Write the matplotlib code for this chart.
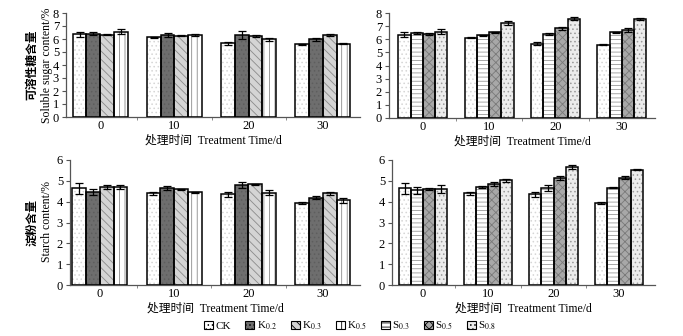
import matplotlib
matplotlib.use("Agg")
import matplotlib.pyplot as plt
from matplotlib.patches import Patch
import numpy as np

plt.rcParams['font.family'] = ['Liberation Serif', 'Noto Sans CJK SC']
plt.rcParams['mathtext.fontset'] = 'stix'
plt.rcParams['hatch.linewidth'] = 0.6

times = ['0', '10', '20', '30']

# Soluble sugar (%)
sugar_CK = [6.36, 6.13, 5.67, 5.60]
sugar_K02 = [6.42, 6.28, 6.33, 5.97]
sugar_K03 = [6.32, 6.26, 6.20, 6.30]
sugar_K05 = [6.56, 6.28, 5.97, 5.64]
sugar_S03 = [6.48, 6.30, 6.40, 6.54]
sugar_S05 = [6.40, 6.52, 6.85, 6.70]
sugar_S08 = [6.58, 7.23, 7.56, 7.56]
sugar_err_CK = [0.20, 0.04, 0.12, 0.03]
sugar_err_K02 = [0.10, 0.15, 0.30, 0.10]
sugar_err_K03 = [0.04, 0.03, 0.08, 0.08]
sugar_err_K05 = [0.20, 0.08, 0.12, 0.03]
sugar_err_S03 = [0.06, 0.03, 0.06, 0.03]
sugar_err_S05 = [0.05, 0.04, 0.12, 0.15]
sugar_err_S08 = [0.20, 0.15, 0.10, 0.06]

# Starch (%)
starch_CK = [4.64, 4.40, 4.35, 3.95]
starch_K02 = [4.48, 4.67, 4.80, 4.20]
starch_K03 = [4.72, 4.60, 4.83, 4.40]
starch_K05 = [4.72, 4.46, 4.43, 4.06]
starch_S03 = [4.54, 4.70, 4.65, 4.67]
starch_S05 = [4.62, 4.86, 5.14, 5.15]
starch_S08 = [4.60, 5.02, 5.67, 5.54]
starch_err_CK = [0.25, 0.08, 0.12, 0.04]
starch_err_K02 = [0.15, 0.10, 0.15, 0.08]
starch_err_K03 = [0.10, 0.03, 0.04, 0.08]
starch_err_K05 = [0.10, 0.02, 0.12, 0.10]
starch_err_S03 = [0.15, 0.03, 0.15, 0.03]
starch_err_S05 = [0.04, 0.10, 0.08, 0.08]
starch_err_S08 = [0.20, 0.08, 0.10, 0.03]

labels = ['CK', 'K$_{0.2}$', 'K$_{0.3}$', 'K$_{0.5}$', 'S$_{0.3}$', 'S$_{0.5}$', 'S$_{0.8}$']
styles = {
    'CK':  dict(face='#ffffff', hatch='....', hc='#d6d6d6'),
    'K02': dict(face='#6e6e6e', hatch='....', hc='#5e5e5e'),
    'K03': dict(face='#d4d4d4', hatch='\\\\\\\\', hc='#8a8a8a'),
    'K05': dict(face='#ffffff', hatch='|||', hc='#8a8a8a'),
    'S03': dict(face='#ffffff', hatch='----', hc='#9a9a9a'),
    'S05': dict(face='#a8a8a8', hatch='xxxx', hc='#7a7a7a'),
    'S08': dict(face='#ececec', hatch='....', hc='#9a9a9a'),
}

fig = plt.figure(figsize=(6.83, 3.36), dpi=100)

axes_pos = {
    'TL': [66/683, 1-117/336, 294/683, 104/336],
    'TR': [389/683, 1-118/336, 266/683, 105/336],
    'BL': [70/683, 1-285/336, 290/683, 125/336],
    'BR': [392/683, 1-285/336, 263/683, 125/336],
}
xlims = {'TL': (-0.46, 3.5), 'TR': (-0.51, 3.5), 'BL': (-0.40, 3.5), 'BR': (-0.47, 3.55)}

bw = 0.185
x = np.arange(len(times))

def draw(key, series, errs, keys, ymax, yticks):
    ax = fig.add_axes(axes_pos[key])
    n = len(series)
    for i, (vals, er, k) in enumerate(zip(series, errs, keys)):
        off = (i - (n - 1) / 2) * bw
        st = styles[k]
        ax.bar(x + off, vals, bw, color=st['face'], hatch=st['hatch'],
               edgecolor=st['hc'], linewidth=0, zorder=2)
        ax.bar(x + off, vals, bw, fill=False, edgecolor='black', linewidth=1.1, zorder=3)
        ax.errorbar(x + off, vals, yerr=er, fmt='none', ecolor='black',
                    elinewidth=0.9, capsize=3, capthick=0.9, zorder=4)
    ax.set_xlim(*xlims[key])
    ax.set_ylim(0, ymax)
    ax.set_yticks(yticks)
    ax.set_xticks(x)
    ax.set_xticklabels(times, fontsize=9)
    ax.set_xticks([0.5, 1.5, 2.5], minor=True)
    ax.tick_params(axis='x', which='major', length=0, pad=2)
    ax.tick_params(axis='x', which='minor', length=2.5, color='#777')
    ax.tick_params(axis='y', length=3, color='#555', labelsize=9, pad=2)
    for s in ['top', 'right']:
        ax.spines[s].set_visible(False)
    for s in ['left', 'bottom']:
        ax.spines[s].set_color('#555')
        ax.spines[s].set_linewidth(0.9)
    return ax

xl = '处理时间  Treatment Time/d'

def set_xl(ax):
    ax.set_xlabel(xl, fontsize=8.5, labelpad=2)

ax = draw('TL', [sugar_CK, sugar_K02, sugar_K03, sugar_K05],
          [sugar_err_CK, sugar_err_K02, sugar_err_K03, sugar_err_K05],
          ['CK', 'K02', 'K03', 'K05'], 8, range(0, 9))
set_xl(ax)
ax = draw('TR', [sugar_CK, sugar_S03, sugar_S05, sugar_S08],
          [sugar_err_CK, sugar_err_S03, sugar_err_S05, sugar_err_S08],
          ['CK', 'S03', 'S05', 'S08'], 8, range(0, 9))
set_xl(ax)
ax = draw('BL', [starch_CK, starch_K02, starch_K03, starch_K05],
          [starch_err_CK, starch_err_K02, starch_err_K03, starch_err_K05],
          ['CK', 'K02', 'K03', 'K05'], 6, range(0, 7))
set_xl(ax)
ax = draw('BR', [starch_CK, starch_S03, starch_S05, starch_S08],
          [starch_err_CK, starch_err_S03, starch_err_S05, starch_err_S08],
          ['CK', 'S03', 'S05', 'S08'], 6, range(0, 7))
set_xl(ax)

# y labels
fig.text(32/683, 1-65/336, '可溶性糖含量', rotation=90, ha='center', va='center',
         fontsize=8.5, fontweight='bold')
fig.text(47/683, 1-65/336, 'Soluble sugar content/%', rotation=90, ha='center', va='center',
         fontsize=8.5)
fig.text(32/683, 1-222/336, '淀粉含量', rotation=90, ha='center', va='center',
         fontsize=8.5, fontweight='bold')
fig.text(47/683, 1-222/336, 'Starch content/%', rotation=90, ha='center', va='center',
         fontsize=8.5)

keys = ['CK', 'K02', 'K03', 'K05', 'S03', 'S05', 'S08']
handles = [Patch(facecolor=styles[k]['face'], hatch=styles[k]['hatch'],
                 edgecolor='black', linewidth=0.8) for k in keys]
fig.legend(handles, labels, loc='center', bbox_to_anchor=(350/683, 1-326/336),
           ncol=7, frameon=False, fontsize=8, handlelength=0.8, handleheight=0.8,
           handletextpad=0.2, columnspacing=1.3, borderpad=0)

fig.savefig('out.png', dpi=100)
